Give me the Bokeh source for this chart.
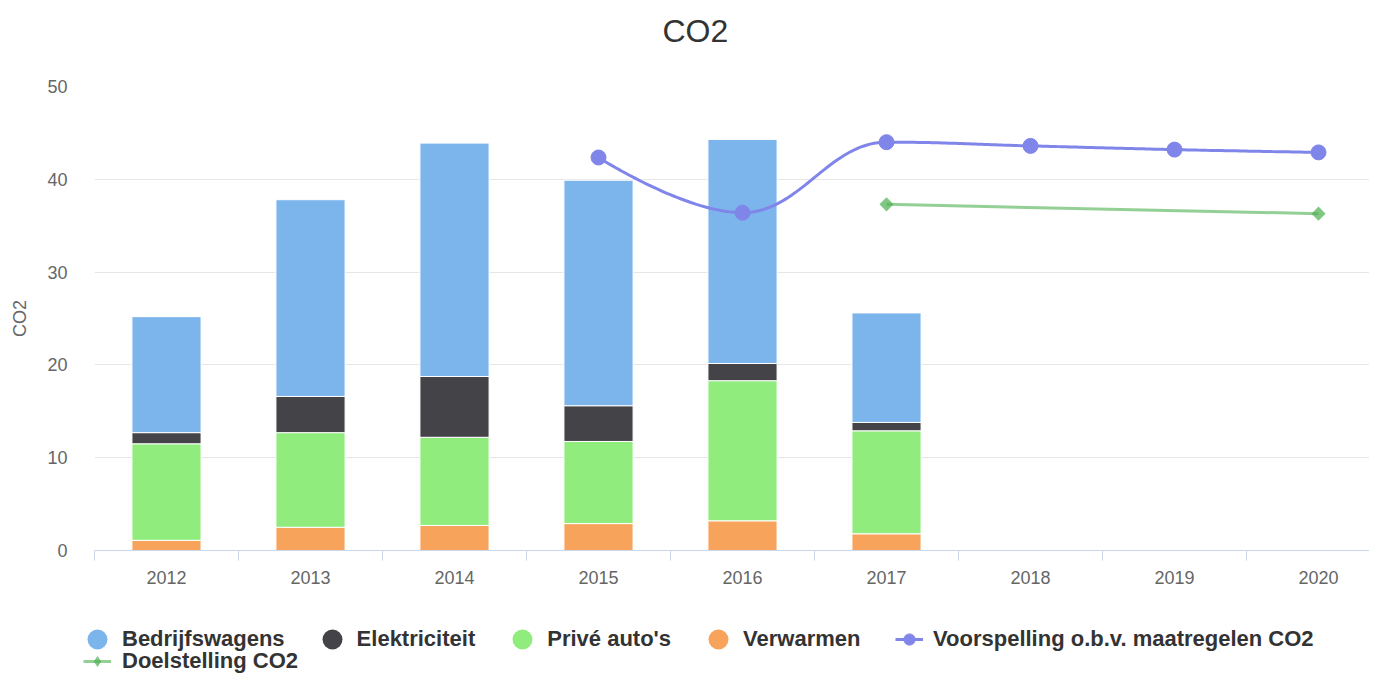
import numpy as np
from bokeh.plotting import figure
from bokeh.layouts import column, row
from bokeh.models import (Range1d, FixedTicker, Legend, LegendItem, ColumnDataSource, Title)
from bokeh.embed import file_html
from bokeh.resources import INLINE

# ---------------- data ----------------
years = ["2012", "2013", "2014", "2015", "2016", "2017", "2018", "2019", "2020"]
bar_years = ["2012", "2013", "2014", "2015", "2016", "2017"]
bedrijfswagens = [12.5, 21.2, 25.15, 24.3, 24.15, 11.8]
elektriciteit = [1.2, 3.9, 6.55, 3.85, 1.85, 0.9]
prive_autos = [10.4, 10.2, 9.5, 8.85, 15.1, 11.1]
verwarmen = [1.1, 2.5, 2.7, 2.9, 3.2, 1.8]

voorspelling_years = ["2015", "2016", "2017", "2018", "2019", "2020"]
voorspelling = [42.35, 36.4, 44.0, 43.6, 43.2, 42.9]

doel_years = ["2017", "2020"]
doelstelling = [37.3, 36.3]

y_ticks = [0, 10, 20, 30, 40, 50]

# colours
C_BEDR = "#7cb5ec"
C_ELEK = "#434348"
C_PRIV = "#90ed7d"
C_VERW = "#f7a35c"
C_VOOR = "#8085e9"
C_DOEL = "#4caf50"

FONT = "Liberation Sans"

idx = {y: i for i, y in enumerate(years)}


def highcharts_spline(xs, ys, n_seg=40):
    """Highcharts-like spline through the given points, sampled as a polyline."""
    n = len(xs)
    sm = 1.5
    d = sm + 1
    left = [None] * n
    right = [None] * n
    for i in range(1, n - 1):
        px, py = xs[i], ys[i]
        lx, ly = xs[i - 1], ys[i - 1]
        nx, ny = xs[i + 1], ys[i + 1]
        lcx = (sm * px + lx) / d
        lcy = (sm * py + ly) / d
        rcx = (sm * px + nx) / d
        rcy = (sm * py + ny) / d
        corr = ((rcy - lcy) * (rcx - px)) / (rcx - lcx) + py - rcy
        lcy += corr
        rcy += corr
        if lcy > ly and lcy > py:
            lcy = max(ly, py); rcy = 2 * py - lcy
        elif lcy < ly and lcy < py:
            lcy = min(ly, py); rcy = 2 * py - lcy
        if rcy > ny and rcy > py:
            rcy = max(ny, py); lcy = 2 * py - rcy
        elif rcy < ny and rcy < py:
            rcy = min(ny, py); lcy = 2 * py - rcy
        left[i] = (lcx, lcy)
        right[i] = (rcx, rcy)
    out_x, out_y = [xs[0]], [ys[0]]
    t = np.linspace(0, 1, n_seg + 1)[1:]
    for i in range(1, n):
        p0 = (xs[i - 1], ys[i - 1])
        p3 = (xs[i], ys[i])
        c1 = right[i - 1] if right[i - 1] is not None else p0
        c2 = left[i] if left[i] is not None else p3
        bx = (1 - t) ** 3 * p0[0] + 3 * (1 - t) ** 2 * t * c1[0] + 3 * (1 - t) * t ** 2 * c2[0] + t ** 3 * p3[0]
        by = (1 - t) ** 3 * p0[1] + 3 * (1 - t) ** 2 * t * c1[1] + 3 * (1 - t) * t ** 2 * c2[1] + t ** 3 * p3[1]
        out_x.extend(bx.tolist())
        out_y.extend(by.tolist())
    return out_x, out_y


# ---------------- main chart ----------------
p = figure(width=1369, height=612, output_backend="svg", toolbar_location=None,
           x_range=Range1d(-0.5, 8.354), y_range=Range1d(0, 50),
           min_border_left=94, min_border_right=0, min_border_top=86, min_border_bottom=62)
p.title = None
p.outline_line_color = None
p.background_fill_color = "white"
p.border_fill_color = "white"

# spacing between title and plot area, then the title itself
p.add_layout(Title(text=" ", text_font_size="1px", standoff=30), "above")
p.add_layout(Title(text="CO2", align="left", offset=568, standoff=10,
                   text_font=FONT, text_font_size="32px", text_font_style="normal",
                   text_color="#333333"), "above")

# stacked bars (bottom -> top)
bx = [idx[y] for y in bar_years]
src = ColumnDataSource(dict(x=bx, verwarmen=verwarmen, prive=prive_autos,
                            elek=elektriciteit, bedr=bedrijfswagens))
p.vbar_stack(["verwarmen", "prive", "elek", "bedr"], x="x", width=0.48, source=src,
             color=[C_VERW, C_PRIV, C_ELEK, C_BEDR], line_color="white", line_width=1)

# forecast spline
vx = [idx[y] for y in voorspelling_years]
sx, sy = highcharts_spline(vx, voorspelling)
p.line(sx, sy, line_color=C_VOOR, line_width=3)
p.scatter(vx, voorspelling, marker="circle", size=15, fill_color=C_VOOR, line_color=C_VOOR)

# target line
dx = [idx[y] for y in doel_years]
p.line(dx, doelstelling, line_color=C_DOEL, line_alpha=0.6, line_width=3)
p.scatter(dx, doelstelling, marker="square", angle=np.pi / 4, size=10, fill_color=C_DOEL,
          fill_alpha=0.7, line_color=None)

# axes
p.xaxis.ticker = FixedTicker(ticks=list(range(len(years))),
                             minor_ticks=[i - 0.5 for i in range(len(years) + 1)])
p.xaxis.major_label_overrides = {i: y for i, y in enumerate(years)}
p.xaxis.axis_line_color = "#ccd6eb"
p.xaxis.major_tick_line_color = None
p.xaxis.major_tick_out = 0
p.xaxis.major_tick_in = 0
p.xaxis.minor_tick_line_color = "#ccd6eb"
p.xaxis.minor_tick_out = 10
p.xaxis.minor_tick_in = 0
p.xaxis.major_label_standoff = 10
p.xaxis.major_label_text_font = FONT
p.xaxis.major_label_text_font_size = "18px"
p.xaxis.major_label_text_color = "#666666"
p.xgrid.grid_line_color = None

p.yaxis.ticker = FixedTicker(ticks=y_ticks)
p.yaxis.axis_line_color = None
p.yaxis.major_tick_line_color = None
p.yaxis.major_tick_out = 0
p.yaxis.major_tick_in = 0
p.yaxis.minor_tick_line_color = None
p.yaxis.minor_tick_out = 0
p.yaxis.major_label_standoff = 27
p.yaxis.major_label_text_font = FONT
p.yaxis.major_label_text_font_size = "18px"
p.yaxis.major_label_text_color = "#666666"
p.yaxis.axis_label = "CO2"
p.yaxis.axis_label_standoff = 14
p.yaxis.axis_label_text_font = FONT
p.yaxis.axis_label_text_font_size = "18px"
p.yaxis.axis_label_text_font_style = "normal"
p.yaxis.axis_label_text_color = "#666666"
p.ygrid.grid_line_color = "#e6e6e6"
p.ygrid.grid_line_width = 1

# ---------------- legend strip ----------------
LH = 63
lf = figure(width=1369, height=LH, output_backend="svg", toolbar_location=None,
            x_range=Range1d(0, 1), y_range=Range1d(0, 1),
            x_axis_type=None, y_axis_type=None,
            min_border_left=0, min_border_right=0, min_border_top=0, min_border_bottom=0)
lf.outline_line_color = None
lf.xgrid.grid_line_color = None
lf.ygrid.grid_line_color = None

OFF = [-5, -4]  # legend-only renderers, outside the visible range
sw = {}
for name, col in [("Bedrijfswagens", C_BEDR), ("Elektriciteit", C_ELEK),
                  ("Privé auto's", C_PRIV), ("Verwarmen", C_VERW)]:
    sw[name] = lf.scatter(OFF[:1], OFF[:1], marker="circle", size=20, fill_color=col, line_color=None)
lv_line = lf.line(OFF, OFF, line_color=C_VOOR, line_width=3)
lv_pts = lf.scatter(OFF[:1], OFF[:1], marker="circle", size=13, fill_color=C_VOOR, line_color=C_VOOR)
ld_line = lf.line(OFF, OFF, line_color=C_DOEL, line_alpha=0.6, line_width=3)
ld_pts = lf.scatter(OFF[:1], OFF[:1], marker="diamond", size=14, fill_color=C_DOEL,
                    fill_alpha=0.7, line_color=None)


def make_legend(items, loc, gw, gh, standoff, spacing=0):
    return Legend(items=items, orientation="horizontal", location=loc,
                  padding=0, margin=0, spacing=spacing, glyph_width=gw, glyph_height=gh,
                  label_standoff=standoff, label_height=20,
                  label_text_font=FONT, label_text_font_size="22px",
                  label_text_font_style="bold", label_text_color="#333333",
                  border_line_color=None, background_fill_alpha=0)


leg_bars = make_legend([
    LegendItem(label="Bedrijfswagens", renderers=[sw["Bedrijfswagens"]]),
    LegendItem(label="Elektriciteit", renderers=[sw["Elektriciteit"]]),
    LegendItem(label="Privé auto's", renderers=[sw["Privé auto's"]]),
    LegendItem(label="Verwarmen", renderers=[sw["Verwarmen"]]),
], (72, LH - 52), gw=50, gh=50, standoff=0, spacing=22)
leg_voor = make_legend([
    LegendItem(label="Voorspelling o.b.v. maatregelen CO2", renderers=[lv_line, lv_pts]),
], (895, LH - 12 - 30), gw=28, gh=30, standoff=10)
leg_doel = make_legend([
    LegendItem(label="Doelstelling CO2", renderers=[ld_line, ld_pts]),
], (83, -1), gw=28, gh=30, standoff=11)
lf.add_layout(leg_bars, "center")
lf.add_layout(leg_voor, "center")
lf.add_layout(leg_doel, "center")

layout = column(p, row(lf), spacing=0)
open("out.html", "w").write(file_html(layout, INLINE))
